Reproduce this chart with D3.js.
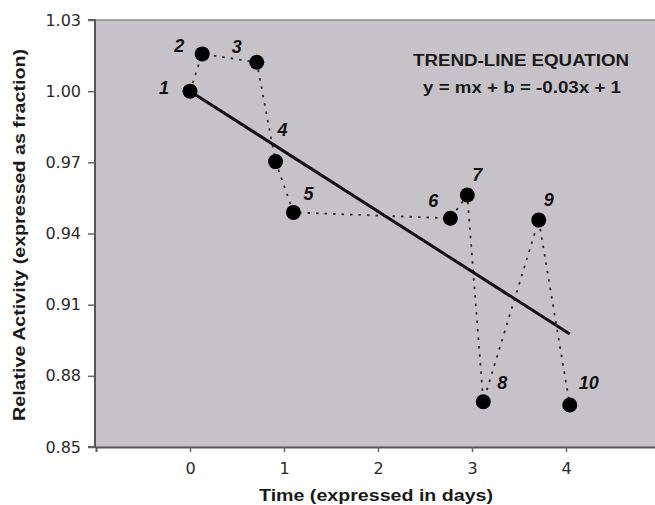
<!DOCTYPE html>
<html><head><meta charset="utf-8">
<script src="https://cdn.jsdelivr.net/npm/d3@7"></script>
<style>
body{margin:0;background:#fff;}
svg{display:block;}
</style></head>
<body>
<svg id="chart" width="655" height="505"></svg>
<script>
// ---- data ----
const pointLabels = ["1","2","3","4","5","6","7","8","9","10"];
const timeDays = [0, 0.13, 0.71, 0.91, 1.10, 2.77, 2.95, 3.12, 3.71, 4.04];
const activity = [1.000, 1.0157, 1.0122, 0.9703, 0.9489, 0.9464, 0.9562, 0.8691, 0.9457, 0.8677];
const trendX = [0, 4.04];
const trendY = [1.000, 0.8976];
const xTicks = [0, 1, 2, 3, 4];
const yTicks = [0.85, 0.88, 0.91, 0.94, 0.97, 1.00, 1.03];
const labelDx = [-26, -23, -20, 7, 15, -17, 10, 19, 10, 19];
const labelDy = [-4, -8, -16, -32, -19, -18, -21, -19, -20, -22];

const svg = d3.select("#chart");
const L = 95, T = 20, R = 660, B = 447;
const x = d3.scaleLinear().domain([-1, 5]).range([L + 1, R]);
const y = d3.scaleLinear().domain([0.85, 1.03]).range([B, T]);

// plot background
svg.append("rect").attr("x", L).attr("y", T).attr("width", R - L).attr("height", B - T)
  .attr("fill", "#c5c3c7");
svg.append("line").attr("x1", L).attr("x2", R).attr("y1", T).attr("y2", T)
  .attr("stroke", "#8a888c").attr("stroke-width", 1.5);

// axes
const yAxis = svg.append("g").attr("transform", `translate(${L},0)`)
  .call(d3.axisLeft(y).tickValues(yTicks).tickFormat(d3.format(".2f")).tickSize(7).tickPadding(7));
const xAxis = svg.append("g").attr("transform", `translate(0,${B})`)
  .call(d3.axisBottom(x).tickValues(xTicks).tickFormat(d3.format("d")).tickSize(5).tickPadding(11));
[yAxis, xAxis].forEach(g => {
  g.select(".domain").attr("stroke", "#555").attr("stroke-width", 2);
  g.selectAll(".tick line").attr("stroke", "#666").attr("stroke-width", 1.5);
  g.selectAll(".tick text").attr("font-family", "DejaVu Sans, sans-serif")
    .attr("font-size", 16).attr("fill", "#2a2a2a");
});
yAxis.select(".domain").attr("d", `M-7,${T}H0V${B}H-7`);

// connecting dotted line
const pts = timeDays.map((t, i) => [t, activity[i]]);
svg.append("path").datum(pts)
  .attr("d", d3.line().x(d => x(d[0])).y(d => y(d[1])))
  .attr("fill", "none").attr("stroke", "#2a2a2a").attr("stroke-width", 1.8)
  .attr("stroke-dasharray", "2.5,6");

// trend line
svg.append("path").datum(trendX.map((t, i) => [t, trendY[i]]))
  .attr("d", d3.line().x(d => x(d[0])).y(d => y(d[1])))
  .attr("fill", "none").attr("stroke", "#111").attr("stroke-width", 3);

// points
svg.append("g").selectAll("circle").data(pts).join("circle")
  .attr("cx", d => x(d[0])).attr("cy", d => y(d[1])).attr("r", 7.5).attr("fill", "#000");

// point labels
svg.append("g").selectAll("text").data(pointLabels).join("text")
  .attr("x", (d, i) => x(timeDays[i]) + labelDx[i])
  .attr("y", (d, i) => y(activity[i]) + labelDy[i])
  .attr("dy", "0.36em").attr("text-anchor", "middle")
  .attr("font-family", "Liberation Sans, Arial, sans-serif").attr("font-weight", "bold")
  .attr("font-style", "italic").attr("font-size", 18).attr("fill", "#111")
  .text(d => d);

// equation
svg.append("text").attr("x", 521).attr("y", 66).attr("text-anchor", "middle")
  .attr("font-family", "Liberation Sans, Arial, sans-serif").attr("font-weight", "bold")
  .attr("font-size", 16).attr("fill", "#1a1a1a")
  .attr("textLength", 216).attr("lengthAdjust", "spacingAndGlyphs")
  .text("TREND-LINE EQUATION");
svg.append("text").attr("x", 522).attr("y", 93).attr("text-anchor", "middle")
  .attr("font-family", "Liberation Sans, Arial, sans-serif").attr("font-weight", "bold")
  .attr("font-size", 16).attr("fill", "#1a1a1a")
  .attr("textLength", 198).attr("lengthAdjust", "spacingAndGlyphs")
  .text("y = mx + b = -0.03x + 1");

// axis titles
svg.append("text").attr("x", 376).attr("y", 501).attr("text-anchor", "middle")
  .attr("font-family", "Liberation Sans, Arial, sans-serif").attr("font-weight", "bold")
  .attr("font-size", 16).attr("fill", "#1a1a1a")
  .attr("textLength", 234).attr("lengthAdjust", "spacingAndGlyphs")
  .text("Time (expressed in days)");
svg.append("text").attr("transform", "translate(25,235) rotate(-90)").attr("text-anchor", "middle")
  .attr("font-family", "Liberation Sans, Arial, sans-serif").attr("font-weight", "bold")
  .attr("font-size", 16).attr("fill", "#1a1a1a")
  .attr("textLength", 372).attr("lengthAdjust", "spacingAndGlyphs")
  .text("Relative Activity (expressed as fraction)");
</script>
</body></html>
